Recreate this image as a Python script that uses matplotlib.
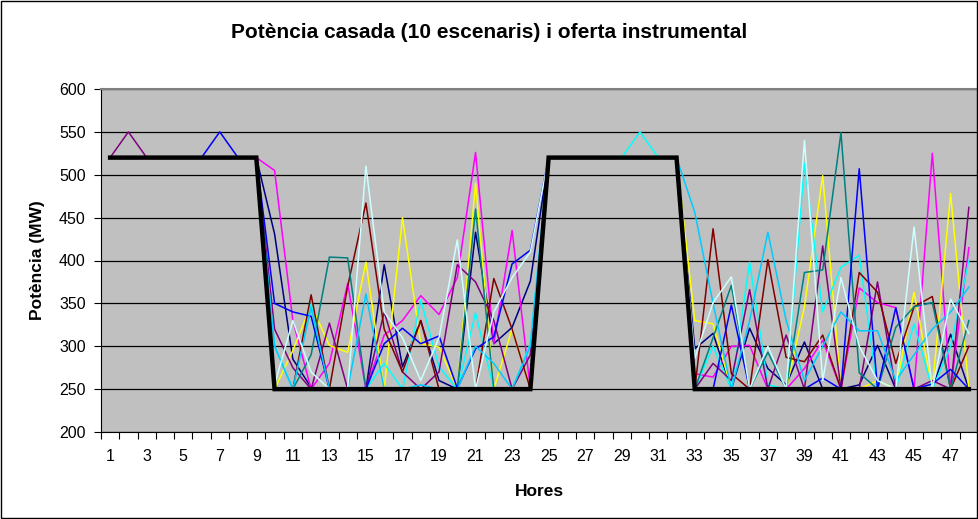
import numpy as np
import matplotlib
matplotlib.use('Agg')
import matplotlib.pyplot as plt
from matplotlib.patches import Rectangle

plt.rcParams['font.family'] = ['Liberation Sans', 'DejaVu Sans']

hores = list(range(1, 49))

oferta = [520]*9 + [250]*15 + [520]*8 + [250]*16

# 10 escenaris de potencia casada (MW)
navy = [520]*9 + [431, 285, 252, 250, 250, 250, 395, 276, 330, 260, 250, 433, 303, 322, 376] + [520]*8 + \
       [297, 315, 250, 321, 274, 255, 305, 250, 250, 255, 301, 250, 250, 250, 314, 250]
magenta = [520]*9 + [505, 330, 250, 280, 373, 250, 313, 330, 359, 337, 380, 526, 303, 435, 250] + [520]*8 + \
          [268, 264, 300, 301, 250, 250, 274, 307, 250, 368, 351, 345, 250, 525, 250, 415]
groc = [520]*9 + [250, 295, 348, 301, 293, 398, 250, 450, 303, 299, 250, 490, 250, 320, 250] + [520]*8 + \
       [330, 326, 250, 250, 250, 250, 346, 499, 250, 250, 260, 250, 363, 250, 478, 250]
cian = [520]*9 + [300, 250, 350, 250, 250, 250, 280, 250, 354, 276, 250, 339, 250, 250, 303] + \
       [520, 520, 520, 520, 520, 550, 520, 520] + \
       [250, 300, 250, 398, 255, 250, 513, 340, 392, 406, 250, 250, 326, 250, 300, 400]
lila = [520, 550] + [520]*7 + [320, 275, 250, 327, 250, 250, 340, 270, 250, 270, 395, 375, 330, 250, 290] + [520]*8 + \
       [250, 280, 260, 366, 250, 313, 250, 417, 250, 250, 375, 250, 250, 260, 250, 462]
granat = [520]*9 + [250, 250, 360, 250, 370, 467, 320, 270, 330, 250, 250, 250, 379, 320, 250] + [520]*8 + \
         [250, 437, 268, 250, 401, 287, 282, 313, 250, 386, 363, 280, 346, 358, 250, 300]
verd = [520]*9 + [250, 250, 290, 404, 403, 250, 250, 250, 250, 250, 250, 460, 250, 250, 250] + [520]*8 + \
       [250, 310, 371, 250, 293, 250, 386, 389, 549, 269, 250, 322, 346, 351, 250, 330]
blau = [520]*6 + [550, 520, 520] + [350, 340, 335, 250, 250, 250, 303, 321, 303, 312, 251, 297, 311, 396, 412] + [520]*8 + \
       [250, 250, 348, 250, 250, 250, 250, 263, 250, 507, 250, 345, 250, 256, 273, 250]
cel = [520]*9 + [300, 250, 345, 250, 250, 361, 250, 250, 255, 250, 250, 300, 280, 250, 300] + [520]*8 + \
      [456, 350, 250, 330, 433, 330, 260, 300, 340, 318, 318, 260, 290, 320, 340, 369]
cianclar = [520]*9 + [255, 330, 270, 250, 250, 510, 340, 310, 260, 310, 424, 250, 340, 380, 410] + [520]*8 + \
           [286, 351, 381, 250, 300, 250, 540, 260, 380, 300, 260, 250, 439, 250, 355, 315]

escenaris = [navy, magenta, groc, cian, lila, granat, verd, blau, cel, cianclar]
colors = ['#000080', '#FF00FF', '#FFFF00', '#00FFFF', '#800080',
          '#800000', '#008080', '#0000FF', '#00CCFF', '#CCFFFF']

fig = plt.figure(figsize=(9.79, 5.19), dpi=100)
ax = fig.add_axes([101/979, 1-432/519, 877/979, 343/519])
ax.set_facecolor('#C0C0C0')

for s, c in zip(escenaris, colors):
    ax.plot(hores, s, color=c, lw=1.1)
ax.plot(hores, oferta, color='black', lw=3.2, solid_joinstyle='miter')

ax.set_xlim(0.5, 48.5)
ax.set_ylim(200, 600)
ax.set_yticks(range(200, 601, 50))
ax.yaxis.grid(True, color='black', lw=0.9)
ax.set_axisbelow(True)

ax.set_xticks(np.arange(0.5, 49, 1))
ax.set_xticklabels([])
ax.set_xticks(range(1, 49, 2), minor=True)
ax.set_xticklabels([str(h) for h in range(1, 49, 2)], minor=True)
ax.tick_params(axis='x', which='minor', length=0, pad=12, labelsize=11.5)
ax.tick_params(axis='x', which='major', length=5, direction='out', width=0.8)
ax.tick_params(axis='y', length=5, direction='out', width=0.8, labelsize=11.5, pad=6)

for side in ['top', 'right']:
    ax.spines[side].set_color('#808080')
    ax.spines[side].set_linewidth(1.5)
ax.spines['left'].set_color('black')
ax.spines['bottom'].set_color('black')

ax.set_ylabel('Potència (MW)', fontsize=12.5, fontweight='bold', labelpad=10)
ax.set_xlabel('Hores', fontsize=12.5, fontweight='bold', labelpad=15)
fig.text(0.5, 1-33/519, 'Potència casada (10 escenaris) i oferta instrumental',
         ha='center', va='center', fontsize=15, fontweight='bold')

fig.patches.append(Rectangle((1/979, 1/519), 976/979, 517/519, transform=fig.transFigure,
                             fill=False, edgecolor='black', lw=1))

fig.savefig('out.png', dpi=100)
